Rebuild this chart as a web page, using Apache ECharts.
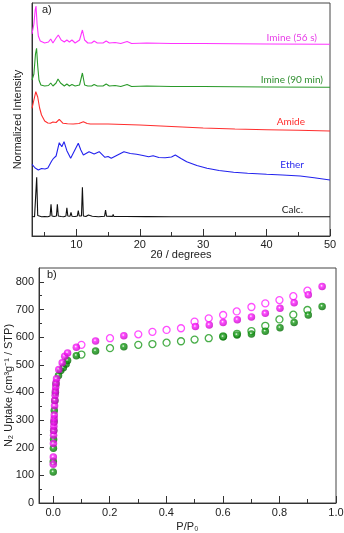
<!DOCTYPE html>
<html><head><meta charset="utf-8">
<script src="https://cdn.jsdelivr.net/npm/echarts@6/dist/echarts.min.js"></script>
<style>html,body{margin:0;padding:0;background:#fff}#c{width:344px;height:533px}</style>
</head><body><div id="c"></div>
<script>
// ---- Panel a: PXRD (2θ, stacked intensity in arbitrary units) ----
var xrdImine56 = [[3.0,202],[3.3,212],[3.5,226],[3.63,230],[3.8,212],[4.0,200],[4.3,195],[5.0,193],[5.6,194],[5.95,197],[6.3,193],[6.8,198],[7.15,201],[7.6,196],[8.1,194],[8.5,196],[8.9,194],[9.3,196],[9.8,193],[10.5,196],[10.95,206],[11.3,196],[11.8,193],[12.4,193],[12.8,195],[13.3,193],[14.2,193],[14.7,195],[15.2,193],[16.1,193.5],[17.0,192.5],[18.0,194.5],[18.7,192.5],[21.1,193],[25,192.5],[30,192.5],[40,192],[50,191.7]];
var xrdImine90 = [[3.0,156],[3.3,162],[3.55,182],[3.72,187.7],[3.9,170],[4.1,156],[4.4,151],[5.0,150],[5.6,150.5],[5.95,153],[6.3,150],[6.8,153],[7.1,157],[7.5,153],[7.8,151],[8.1,150],[8.5,152],[8.9,150],[9.3,151.5],[9.8,150],[10.5,151],[10.95,163],[11.3,151],[11.8,150],[12.4,150],[12.8,151.5],[13.3,150],[14.2,150],[14.7,152],[15.2,150],[16.1,150.5],[17.0,149.5],[18.0,151.5],[18.7,149.5],[21.1,150],[25,149.5],[30,149.5],[40,149],[50,148.7]];
var xrdAmide = [[3.0,127.7],[3.3,136],[3.6,144.3],[3.9,139],[4.2,128],[4.5,121],[5.0,115],[5.5,113],[5.9,112.7],[6.3,114],[6.8,113.5],[7.3,116.7],[7.9,112.7],[8.6,112.3],[9.5,112],[10.4,112.5],[11.1,114.3],[11.7,112.5],[12.2,112],[15,112],[20,111],[25,109.5],[30,108],[35,107],[40,106.3],[45,105.7],[50,105]];
var xrdEther = [[3.0,71.7],[3.5,68],[4.0,66],[4.5,67.5],[5.05,67],[5.5,68],[5.8,69.3],[6.1,75],[6.4,77.7],[6.8,80],[7.3,93.3],[7.7,89.3],[8.05,94.3],[8.5,85.3],[8.7,86],[9.1,77.7],[9.6,84],[10.3,92.7],[10.7,86],[11.1,81],[12.0,84.3],[12.8,82],[13.6,84.3],[14.5,78.7],[15.0,79.5],[15.5,77.7],[16.5,81],[17.5,84.3],[18.5,82.5],[19.5,81.7],[20.5,80.5],[21.4,79.3],[22.1,80.3],[23,78.5],[24,78.3],[25.0,79],[25.6,81],[26.5,77.5],[27.4,74.3],[29,70.5],[30.6,67.7],[32.5,65.5],[34.8,63.7],[37,62.8],[40,61.7],[42.5,61],[45.3,60],[47.5,58.3],[50,56]];
var xrdCalc = [[3.0,19.5],[3.4,19.3],[3.6,20.5],[3.74,58.7],[3.9,20.5],[4.1,19.5],[4.5,19.3],[5.0,19.5],[5.5,19.3],[5.85,20],[6.0,31.7],[6.15,20],[6.5,19.5],[6.85,20],[7.0,31.7],[7.15,20],[7.6,19.5],[8.0,19.3],[8.35,20],[8.5,28.3],[8.65,20],[9.0,19.8],[9.15,23.7],[9.3,19.8],[9.8,19.5],[10.15,20],[10.3,25.3],[10.45,20],[10.8,20],[10.95,48.7],[11.1,20],[11.5,19.5],[11.8,19.8],[11.9,21],[12.0,19.8],[12.5,19.8],[12.6,21.3],[12.7,19.8],[13.5,19.3],[14.45,19.8],[14.6,26],[14.75,19.8],[15.7,19.6],[15.8,21.7],[15.9,19.6],[17.8,19.5],[17.9,21],[18.0,19.5],[21.0,19.4],[21.1,20.2],[21.2,19.4],[25,19.3],[30,19.3],[40,19.3],[50,19.2]];
var xrdNames = ['Imine (56 s)','Imine (90 min)','Amide','Ether','Calc.'];
var xTicksA = [10,20,30,40,50];
var xMinorA = [5,15,25,35,45];

// ---- Panel b: N2 isotherms (P/P0, cm3/g STP) ----
var magAds = [[0.0005,140],[0.0007,166],[0.001,215],[0.0015,245],[0.002,262],[0.0025,278],[0.003,292],[0.0035,305],[0.004,318],[0.005,352],[0.006,372],[0.007,390],[0.008,405],[0.009,420],[0.010,435],[0.012,449],[0.020,483],[0.032,507],[0.041,531],[0.051,543],[0.082,563],[0.150,586],[0.250,605],[0.503,638],[0.552,644],[0.601,653],[0.651,663],[0.701,673],[0.750,686],[0.802,704],[0.852,724],[0.902,753],[0.951,783]];
var magDes = [[0.100,572],[0.201,596],[0.301,610],[0.351,619],[0.401,626],[0.452,632],[0.500,656],[0.550,668],[0.601,680],[0.649,693],[0.701,709],[0.750,722],[0.800,734],[0.849,748],[0.899,768]];
var grnAds = [[0.0003,112],[0.0006,150],[0.001,198],[0.0015,230],[0.002,262],[0.003,295],[0.004,335],[0.006,370],[0.008,400],[0.010,430],[0.019,461],[0.027,479],[0.036,489],[0.046,503],[0.051,515],[0.082,533],[0.150,550],[0.250,565],[0.601,601],[0.650,608],[0.701,611],[0.750,621],[0.802,634],[0.852,653],[0.902,680],[0.951,711]];
var grnDes = [[0.100,537],[0.201,560],[0.301,572],[0.351,575],[0.401,580],[0.452,585],[0.500,591],[0.550,596],[0.601,603],[0.650,612],[0.701,622],[0.750,641],[0.800,664],[0.849,681],[0.899,698]];
var xTicksB = [0,0.2,0.4,0.6,0.8,1.0];
var xMinorB = [0.1,0.3,0.5,0.7,0.9];
var yTicksB = [0,100,200,300,400,500,600,700,800];
var yMinorB = [50,150,250,350,450,550,650,750];

var MAG = '#ff22ff', GRN = '#1c9a1c';
var AX = '#333';
var FONT = 'Liberation Sans';
function ball(c, dark){
  return {type:'radial', x:0.42, y:0.4, r:0.6, colorStops:[{offset:0,color:'#ffffff'},{offset:0.3,color:c},{offset:1,color:dark}]};
}
function line(data, color){
  return {type:'line', xAxisIndex:0, yAxisIndex:0, data:data, showSymbol:false, symbol:'none', lineStyle:{color:color, width:1.1}, silent:true, animation:false};
}
var chart = echarts.init(document.getElementById('c'), null, {renderer:'canvas'});
var option = {
  animation:false,
  textStyle:{fontFamily:FONT},
  grid:[
    {left:32, top:3, width:298, height:233, show:true, borderColor:'#444', borderWidth:1, backgroundColor:'rgba(0,0,0,0)', containLabel:false, outerBoundsMode:'none'},
    {left:39, top:268, width:297, height:235, show:true, borderColor:'#444', borderWidth:1, backgroundColor:'rgba(0,0,0,0)', containLabel:false, outerBoundsMode:'none'}
  ],
  xAxis:[
    {gridIndex:0, type:'value', position:'bottom', min:3, max:50,
     axisLine:{onZero:false, lineStyle:{color:AX}}, axisTick:{inside:true, length:7, customValues:xTicksA, lineStyle:{color:AX}},
     axisLabel:{customValues:xTicksA, fontSize:11, color:'#222', margin:3, fontFamily:FONT}, splitLine:{show:false},
     name:'2θ / degrees', nameLocation:'middle', nameGap:13, nameMoveOverlap:false, nameTextStyle:{fontSize:11, color:'#222', fontFamily:FONT}},
    {gridIndex:0, type:'value', position:'bottom', min:3, max:50,
     axisLine:{show:false, onZero:false}, axisTick:{inside:true, length:4, customValues:xMinorA, lineStyle:{color:AX}},
     axisLabel:{show:false}, splitLine:{show:false}},
    {gridIndex:1, type:'value', position:'bottom', min:-0.05, max:1.0,
     axisLine:{onZero:false, lineStyle:{color:AX}}, axisTick:{inside:true, length:7, customValues:xTicksB, lineStyle:{color:AX}},
     axisLabel:{customValues:xTicksB, fontSize:11, color:'#222', margin:4, fontFamily:FONT, formatter:function(v){return v.toFixed(1);}}, splitLine:{show:false},
     name:'P/P₀', nameLocation:'middle', nameGap:18, nameMoveOverlap:false, nameTextStyle:{fontSize:11, color:'#222', fontFamily:FONT}},
    {gridIndex:1, type:'value', position:'bottom', min:-0.05, max:1.0,
     axisLine:{show:false, onZero:false}, axisTick:{inside:true, length:4, customValues:xMinorB, lineStyle:{color:AX}},
     axisLabel:{show:false}, splitLine:{show:false}}
  ],
  yAxis:[
    {gridIndex:0, type:'value', min:0, max:233, axisLine:{show:true, onZero:false, lineStyle:{color:AX}}, axisTick:{show:false}, axisLabel:{show:false}, splitLine:{show:false},
     name:'Normalized Intensity', nameLocation:'middle', nameGap:9, nameMoveOverlap:false, nameTextStyle:{fontSize:11, color:'#222', fontFamily:FONT}},
    {gridIndex:1, type:'value', position:'left', min:0, max:850,
     axisLine:{show:true, onZero:false, lineStyle:{color:AX}}, axisTick:{inside:true, length:5, customValues:yTicksB, lineStyle:{color:AX}},
     axisLabel:{customValues:yTicksB, fontSize:11, color:'#222', margin:5, fontFamily:FONT}, splitLine:{show:false},
     name:'N₂ Uptake (cm³g⁻¹ / STP)', nameLocation:'middle', nameGap:25, nameMoveOverlap:false,
     nameTextStyle:{fontSize:11, color:'#222', fontFamily:FONT}},
    {gridIndex:1, type:'value', position:'left', min:0, max:850,
     axisLine:{show:false, onZero:false}, axisTick:{inside:true, length:3, customValues:yMinorB, lineStyle:{color:AX}},
     axisLabel:{show:false}, splitLine:{show:false}}
  ],
  series:[
    line(xrdCalc, '#111'),
    line(xrdEther, '#2222ee'),
    line(xrdAmide, '#ff2e2e'),
    line(xrdImine90, '#2a9a2a'),
    line(xrdImine56, '#ff33ff'),
    {type:'scatter', xAxisIndex:2, yAxisIndex:1, data:grnDes, symbol:'circle', symbolSize:7,
     itemStyle:{color:'rgba(255,255,255,0)', borderColor:GRN, borderWidth:1.3}, silent:true},
    {type:'scatter', xAxisIndex:2, yAxisIndex:1, data:grnAds, symbol:'circle', symbolSize:7.5,
     itemStyle:{color:ball('#1aa01a','#006a00')}, silent:true},
    {type:'scatter', xAxisIndex:2, yAxisIndex:1, data:magDes, symbol:'circle', symbolSize:7,
     itemStyle:{color:'rgba(255,255,255,0)', borderColor:MAG, borderWidth:1.3}, silent:true},
    {type:'scatter', xAxisIndex:2, yAxisIndex:1, data:magAds, symbol:'circle', symbolSize:7.5,
     itemStyle:{color:ball('#ff20ff','#c800c8')}, silent:true}
  ],
  graphic:[
    {type:'text', left:42, top:4, style:{text:'a)', font:'11px '+FONT, fill:'#222'}},
    {type:'text', left:47, top:269, style:{text:'b)', font:'11px '+FONT, fill:'#222'}},
    {type:'text', right:27, top:33, style:{text:xrdNames[0], font:'10px Lato', fill:'#e83ee8'}},
    {type:'text', right:21, top:75, style:{text:xrdNames[1], font:'10px Lato', fill:'#2e8e2e'}},
    {type:'text', right:39, top:117, style:{text:xrdNames[2], font:'10px Lato', fill:'#ff2a2a'}},
    {type:'text', right:40, top:160, style:{text:xrdNames[3], font:'10px Lato', fill:'#2a2aee'}},
    {type:'text', right:41, top:205, style:{text:xrdNames[4], font:'10px Lato', fill:'#222'}}
  ]
};
chart.setOption(option);
</script>
</body></html>
